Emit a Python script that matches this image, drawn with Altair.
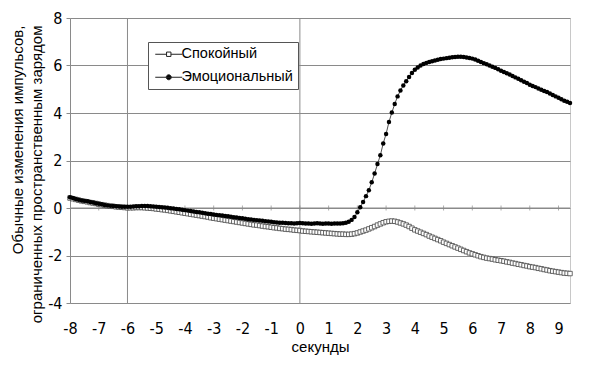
import altair as alt
import pandas as pd

# time samples (seconds), 10 per second from -8.0 to 9.4
seconds = [round(-8 + 0.1 * i, 1) for i in range(175)]

calm = [
    0.42, 0.39, 0.36, 0.33, 0.30, 0.28, 0.26, 0.23, 0.21, 0.19,
    0.16, 0.14, 0.12, 0.10, 0.08, 0.07, 0.05, 0.04, 0.03, 0.02,
    0.01, 0.01, 0.01, 0.02, 0.02, 0.02, 0.01, 0.00, -0.01, -0.02,
    -0.04, -0.05, -0.07, -0.08, -0.10, -0.12, -0.14, -0.16, -0.18, -0.20,
    -0.22, -0.24, -0.26, -0.28, -0.30, -0.32, -0.34, -0.36, -0.38, -0.41,
    -0.43, -0.45, -0.47, -0.49, -0.51, -0.53, -0.55, -0.57, -0.59, -0.61,
    -0.63, -0.65, -0.67, -0.69, -0.71, -0.72, -0.74, -0.76, -0.78, -0.79,
    -0.81, -0.83, -0.84, -0.86, -0.87, -0.89, -0.90, -0.91, -0.93, -0.94,
    -0.95, -0.97, -0.98, -0.99, -1.00, -1.01, -1.02, -1.03, -1.04, -1.05,
    -1.06, -1.07, -1.08, -1.09, -1.10, -1.10, -1.11, -1.11, -1.10, -1.08,
    -1.05, -1.01, -0.97, -0.93, -0.88, -0.83, -0.78, -0.72, -0.67, -0.62,
    -0.58, -0.56, -0.55, -0.56, -0.59, -0.63, -0.67, -0.72, -0.78, -0.85,
    -0.92, -0.97, -1.02, -1.07, -1.12, -1.18, -1.23, -1.28, -1.33, -1.38,
    -1.44, -1.49, -1.54, -1.59, -1.64, -1.69, -1.74, -1.79, -1.84, -1.89,
    -1.93, -1.97, -2.01, -2.05, -2.08, -2.11, -2.13, -2.15, -2.18, -2.20,
    -2.22, -2.24, -2.27, -2.29, -2.32, -2.34, -2.37, -2.39, -2.42, -2.44,
    -2.47, -2.49, -2.51, -2.54, -2.56, -2.59, -2.61, -2.64, -2.66, -2.68,
    -2.70, -2.72, -2.74, -2.75, -2.76,
]

emotional = [
    0.45, 0.42, 0.38, 0.35, 0.32, 0.30, 0.28, 0.25, 0.23, 0.20,
    0.18, 0.16, 0.13, 0.11, 0.09, 0.08, 0.07, 0.06, 0.05, 0.05,
    0.05, 0.05, 0.06, 0.07, 0.07, 0.08, 0.08, 0.08, 0.07, 0.06,
    0.05, 0.04, 0.03, 0.02, 0.01, -0.01, -0.02, -0.04, -0.05, -0.07,
    -0.09, -0.11, -0.13, -0.15, -0.17, -0.18, -0.20, -0.22, -0.24, -0.25,
    -0.27, -0.29, -0.30, -0.32, -0.34, -0.35, -0.37, -0.39, -0.40, -0.42,
    -0.43, -0.45, -0.47, -0.48, -0.50, -0.51, -0.53, -0.54, -0.56, -0.57,
    -0.58, -0.60, -0.61, -0.62, -0.62, -0.63, -0.64, -0.64, -0.65, -0.64,
    -0.63, -0.64, -0.65, -0.65, -0.66, -0.65, -0.64, -0.65, -0.66, -0.65,
    -0.65, -0.66, -0.65, -0.65, -0.65, -0.64, -0.62, -0.58, -0.50, -0.38,
    -0.18, 0.03, 0.25, 0.50, 0.75, 1.08, 1.45, 1.85, 2.22, 2.72,
    3.12, 3.62, 4.02, 4.38, 4.70, 4.95, 5.16, 5.34, 5.52, 5.68,
    5.82, 5.92, 6.00, 6.06, 6.11, 6.15, 6.18, 6.21, 6.24, 6.27,
    6.29, 6.31, 6.33, 6.35, 6.36, 6.37, 6.37, 6.36, 6.34, 6.32,
    6.29, 6.25, 6.20, 6.15, 6.10, 6.05, 6.00, 5.95, 5.90, 5.84,
    5.78, 5.73, 5.67, 5.62, 5.56, 5.50, 5.44, 5.38, 5.32, 5.26,
    5.19, 5.14, 5.09, 5.03, 4.98, 4.93, 4.88, 4.82, 4.76, 4.70,
    4.64, 4.58, 4.52, 4.47, 4.42,
]

series_names = ["Спокойный", "Эмоциональный"]
x_ticks = list(range(-8, 10))
y_ticks = [-4, -2, 0, 2, 4, 6, 8]
v_lines = [-6, 0]
y_title = ["Обычные изменения импульсов,", "ограниченных пространственным зарядом"]

df = pd.DataFrame({
    "t": seconds + seconds,
    "v": calm + emotional,
    "series": [series_names[0]] * len(calm) + [series_names[1]] * len(emotional),
})

NUM_FONT = "Liberation Sans Narrow, DejaVu Sans Condensed, sans-serif"
TXT_FONT = "Liberation Sans, Arial, sans-serif"
GRID = "#8a8a8a"

X = alt.X(
    "t:Q",
    scale=alt.Scale(domain=[-8, 9.4], nice=False, zero=False),
    axis=alt.Axis(
        values=x_ticks, title="секунды", labelExpr="'' + datum.value",
        ticks=False, domain=False, grid=False, labelPadding=17,
        labelFont=NUM_FONT, labelFontSize=16, labelColor="black", labelFlush=False,
        titleFont=TXT_FONT, titleFontSize=15, titleFontWeight="normal",
        titlePadding=3, titleColor="black",
    ),
)
Y = alt.Y(
    "v:Q",
    scale=alt.Scale(domain=[-4, 8], nice=False),
    axis=alt.Axis(
        values=y_ticks, title=y_title, labelExpr="'' + datum.value",
        grid=True, gridColor=GRID, domainColor=GRID, tickColor=GRID, tickSize=4,
        labelPadding=4, labelFont=NUM_FONT, labelFontSize=16, labelColor="black",
        titleFont=TXT_FONT, titleFontSize=15, titleFontWeight="normal",
        titleColor="black", titlePadding=3, titleLineHeight=19,
        titleAlign="right", titleY=7,
    ),
)

base = alt.Chart(df)

vlines_layer = alt.Chart(pd.DataFrame({"t": v_lines})).mark_rule(color=GRID, strokeWidth=1).encode(x=X)
zero_layer = alt.Chart(pd.DataFrame({"v": [0]})).mark_rule(color=GRID, strokeWidth=1).encode(y=Y)
tick_layer = alt.Chart(pd.DataFrame({"t": x_ticks[1:]})).mark_tick(
    orient="vertical", size=5, thickness=1, color=GRID
).encode(x=X, y=alt.datum(0))

calm_df = base.transform_filter(alt.datum.series == series_names[0])
emo_df = base.transform_filter(alt.datum.series == series_names[1])

calm_line = calm_df.mark_line(color="#555555", strokeWidth=0.8).encode(x=X, y=Y)
calm_pts = calm_df.mark_point(
    shape="square", size=20, fill="white", filled=False, stroke="#444444",
    strokeWidth=0.8, opacity=1
).encode(x=X, y=Y)
emo_line = emo_df.mark_line(color="#222222", strokeWidth=0.8).encode(x=X, y=Y)
emo_pts = emo_df.mark_point(
    shape="circle", size=20, filled=True, color="black", opacity=1
).encode(x=X, y=Y)

calm_sym = "M-1,0H1.26M2.14,0H4.4M1.26,-0.44H2.14V0.44H1.26Z"
emo_sym = "M-1,0H4.4M2.2,0A0.5,0.5,0,1,1,1.2,0A0.5,0.5,0,1,1,2.2,0Z"

leg = alt.Legend(
    title=None, orient="none", legendX=78, legendY=24, strokeColor="#555555",
    fillColor="white", padding=5, labelFont=TXT_FONT, labelFontSize=14.5,
    labelColor="black", symbolSize=100, labelOffset=14, rowPadding=8,
    symbolStrokeWidth=1, symbolOpacity=1,
)
legend_layer = base.transform_filter("false").mark_point(
    strokeWidth=1, opacity=1
).encode(
    shape=alt.Shape("series:N", scale=alt.Scale(domain=series_names, range=[calm_sym, emo_sym]), legend=leg),
    fill=alt.Fill("series:N", scale=alt.Scale(domain=series_names, range=["white", "black"]), legend=leg),
    stroke=alt.Stroke("series:N", scale=alt.Scale(domain=series_names, range=["#222222", "#222222"]), legend=leg),
)

chart = alt.layer(
    vlines_layer, zero_layer, tick_layer, calm_line, calm_pts, emo_line, emo_pts, legend_layer
).properties(
    width=500, height=285, autosize="none",
    padding={"left": 70, "top": 18, "right": 30, "bottom": 74},
    background="white",
).configure_view(stroke="#c8c8c8", strokeWidth=1)

chart.save("out.html", embed_options={"renderer": "svg", "actions": False})
